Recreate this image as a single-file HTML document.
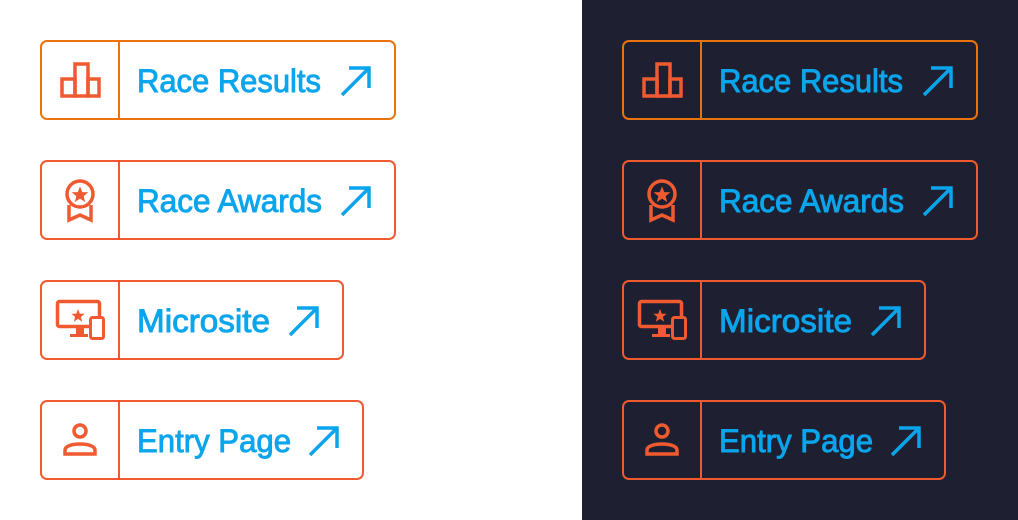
<!DOCTYPE html>
<html><head><style>
html,body{margin:0;padding:0;background:#fff;}
svg{display:block}
text{font-family:"Liberation Sans",Arial,sans-serif;font-size:32px;fill:#0ba5ec;stroke:#0ba5ec;stroke-width:0.9px;}
</style></head><body>
<svg width="1018" height="520" viewBox="0 0 1018 520" xmlns="http://www.w3.org/2000/svg">
<rect x="582" y="0" width="436" height="520" fill="#1e2031"/>
<defs>
<g id="star"><polygon points="0,-7 1.8,-2.3 6.7,-2.2 2.9,0.9 4.2,5.7 0,2.9 -4.2,5.7 -2.9,0.9 -6.7,-2.2 -1.8,-2.3" fill="#f05a30"/></g>
<g id="set">
 <rect x="41" y="41" width="354" height="78" rx="6" fill="none" stroke="#e8730f" stroke-width="2"/>
 <line x1="119" y1="41" x2="119" y2="119" stroke="#e8730f" stroke-width="2"/>
 <rect x="41" y="161" width="354" height="78" rx="6" fill="none" stroke="#f05a30" stroke-width="2"/>
 <line x1="119" y1="161" x2="119" y2="239" stroke="#f05a30" stroke-width="2"/>
 <rect x="41" y="281" width="302" height="78" rx="6" fill="none" stroke="#f05a30" stroke-width="2"/>
 <line x1="119" y1="281" x2="119" y2="359" stroke="#f05a30" stroke-width="2"/>
 <rect x="41" y="401" width="322" height="78" rx="6" fill="none" stroke="#f05a30" stroke-width="2"/>
 <line x1="119" y1="401" x2="119" y2="479" stroke="#f05a30" stroke-width="2"/>
 <text x="137" y="92" textLength="184" lengthAdjust="spacingAndGlyphs">Race Results</text>
 <text x="137" y="212" textLength="185" lengthAdjust="spacingAndGlyphs">Race Awards</text>
 <text x="137" y="332" textLength="133" lengthAdjust="spacingAndGlyphs">Microsite</text>
 <text x="137" y="452" textLength="154" lengthAdjust="spacingAndGlyphs">Entry Page</text>
 <g fill="none" stroke="#0ba5ec" stroke-width="3.5">
  <path d="M342 95 L369 68 M349 68 H369 V88"/>
  <path d="M342 215 L369 188 M349 188 H369 V208"/>
  <path d="M290 335 L317 308 M297 308 H317 V328"/>
  <path d="M310 455 L337 428 M317 428 H337 V448"/>
 </g>
 <g fill="none" stroke="#f05a30" stroke-width="3.5">
  <rect x="62" y="79" width="13" height="17"/>
  <rect x="75" y="64" width="13" height="32"/>
  <rect x="88" y="79" width="11" height="17"/>
  <circle cx="80" cy="194" r="13"/>
  <path d="M69 205 V220 L80 215 L91 220 V205"/>
  <rect x="57.5" y="301.5" width="42" height="25" rx="2"/>
  <circle cx="80" cy="431" r="6"/>
  <path d="M65 454 V450 C65 442 95 442 95 450 V454 Z"/>
 </g>
 <rect x="76" y="327" width="8" height="8" fill="#f05a30"/>
 <rect x="70" y="334" width="18" height="3" fill="#f05a30"/>
 <use href="#star" x="80" y="195" transform="translate(-20 -48.75) scale(1.25)"/>
 <use href="#star" x="78" y="316"/>
</g>
</defs>
<use href="#set"/>
<rect x="90.5" y="317.5" width="13" height="21" rx="2" fill="#fff" stroke="#f05a30" stroke-width="3"/>
<g transform="translate(582,0)">
 <use href="#set"/>
</g>
<rect x="672.5" y="317.5" width="13" height="21" rx="2" fill="#1e2031" stroke="#f05a30" stroke-width="3"/>
</svg>
</body></html>
